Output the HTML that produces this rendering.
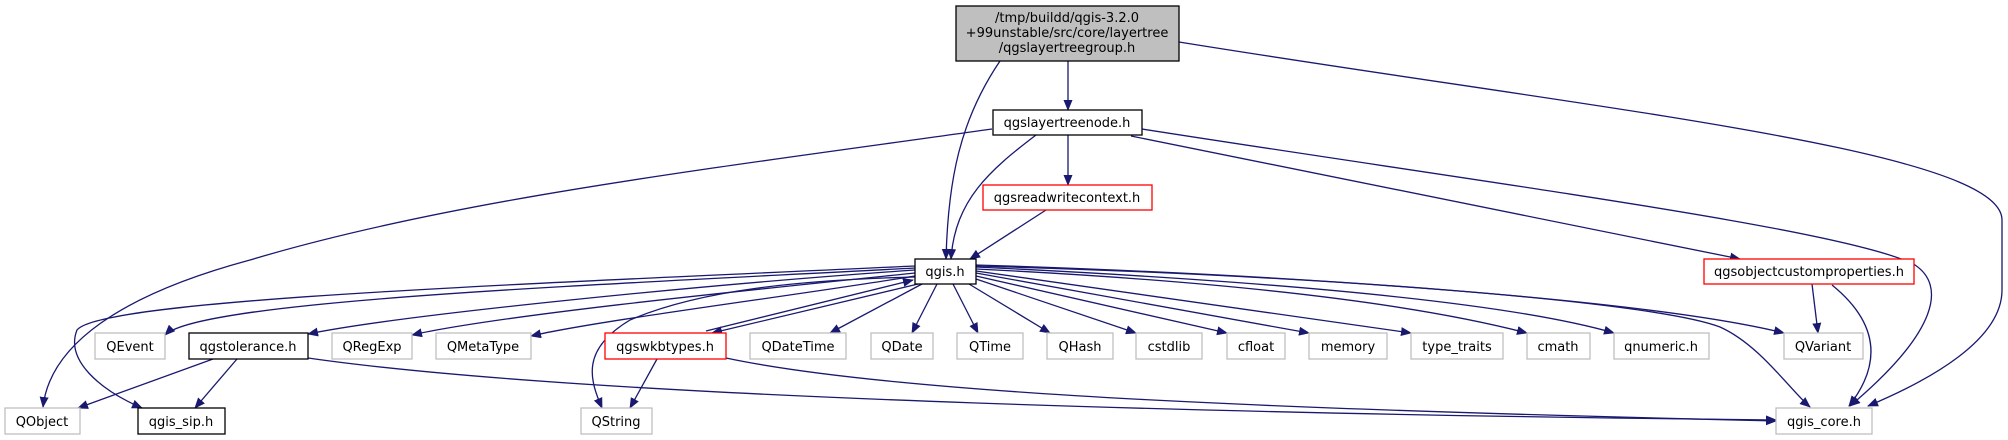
<!DOCTYPE html>
<html><head><meta charset="utf-8"><style>
html,body{margin:0;padding:0;background:#fff}
svg{display:block}
text{font-family:"DejaVu Sans","Liberation Sans",sans-serif;font-size:13px;fill:#000}
</style></head><body>
<svg width="2008" height="440" viewBox="0 0 2008 440" xmlns="http://www.w3.org/2000/svg">
<defs>
<marker id="a" markerWidth="11" markerHeight="9" refX="10" refY="4.5" orient="auto" markerUnits="userSpaceOnUse">
<path d="M0,0 L11,4.5 L0,9 z" fill="#191970"/>
</marker>
</defs>
<g fill="none" stroke="#191970" stroke-width="1.3" marker-end="url(#a)">
<path d="M1000,61 C960,120 948,180 946,259"/>
<path d="M1068,61 L1068,110"/>
<path d="M1179,42 C1600,110 2002,150 2002,220 L2002,290 C2002,340 1930,380 1868,406"/>
<path d="M1036,135 C990,170 955,200 951,259"/>
<path d="M992,129 C700,170 450,200 250,260 C120,295 50,345 43,407"/>
<path d="M1068,135 L1068,185"/>
<path d="M1131,136 L1740,259"/>
<path d="M1142,129 C1500,185 1850,230 1915,265 C1945,285 1940,330 1850,406"/>
<path d="M1046,210 L970,259"/>
<path d="M1812,284 L1818,333"/>
<path d="M1832,285 C1875,320 1885,360 1849,406"/>
<path d="M915,268 C600,285 200,300 165,335"/>
<path d="M915,270 C700,285 400,315 308,334"/>
<path d="M915,273 C750,290 500,315 412,335"/>
<path d="M915,276 C800,295 600,320 531,336"/>
<path d="M915,266 C500,285 100,300 77,330 C65,360 100,390 142,408"/>
<path d="M915,277 C800,280 700,290 630,320 C580,350 590,380 602,408"/>
<path d="M918,284 L712,333"/>
<path d="M706,331 L913,280"/>
<path d="M922,284 L830,333"/>
<path d="M937,284 L912,333"/>
<path d="M953,284 L978,333"/>
<path d="M969,284 L1050,333"/>
<path d="M976,279 L1136,333"/>
<path d="M976,276 L1227,333"/>
<path d="M976,273 L1309,333"/>
<path d="M976,271 L1411,333"/>
<path d="M976,269 C1200,280 1400,300 1527,333"/>
<path d="M976,267 C1250,280 1500,300 1614,333"/>
<path d="M976,265 C1300,275 1650,300 1784,333"/>
<path d="M976,266 C1300,275 1650,300 1720,327 C1760,345 1790,390 1810,407"/>
<path d="M213,359 L78,408"/>
<path d="M237,359 L195,408"/>
<path d="M308,358 C600,400 1300,415 1776,420"/>
<path d="M657,359 L630,408"/>
<path d="M726,358 C900,395 1300,410 1776,421"/>
</g>
<g stroke-width="1.3">
<rect x="956" y="6" width="223" height="55" fill="#bfbfbf" stroke="#000"/>
<rect x="993" y="110" width="149" height="25" fill="#fff" stroke="#000"/>
<rect x="983" y="185" width="169" height="25" fill="#fff" stroke="#ff0000"/>
<rect x="915" y="259" width="61" height="25" fill="#fff" stroke="#000"/>
<rect x="1704" y="259" width="210" height="25" fill="#fff" stroke="#ff0000"/>
<rect x="95" y="333" width="70" height="26" fill="#fff" stroke="#bfbfbf"/>
<rect x="189" y="333" width="119" height="26" fill="#fff" stroke="#000"/>
<rect x="332" y="333" width="80" height="26" fill="#fff" stroke="#bfbfbf"/>
<rect x="436" y="333" width="95" height="26" fill="#fff" stroke="#bfbfbf"/>
<rect x="605" y="333" width="121" height="26" fill="#fff" stroke="#ff0000"/>
<rect x="750" y="333" width="96" height="26" fill="#fff" stroke="#bfbfbf"/>
<rect x="871" y="333" width="62" height="26" fill="#fff" stroke="#bfbfbf"/>
<rect x="957" y="333" width="66" height="26" fill="#fff" stroke="#bfbfbf"/>
<rect x="1047" y="333" width="66" height="26" fill="#fff" stroke="#bfbfbf"/>
<rect x="1136" y="333" width="66" height="26" fill="#fff" stroke="#bfbfbf"/>
<rect x="1227" y="333" width="58" height="26" fill="#fff" stroke="#bfbfbf"/>
<rect x="1309" y="333" width="78" height="26" fill="#fff" stroke="#bfbfbf"/>
<rect x="1411" y="333" width="92" height="26" fill="#fff" stroke="#bfbfbf"/>
<rect x="1527" y="333" width="63" height="26" fill="#fff" stroke="#bfbfbf"/>
<rect x="1614" y="333" width="95" height="26" fill="#fff" stroke="#bfbfbf"/>
<rect x="1784" y="333" width="79" height="26" fill="#fff" stroke="#bfbfbf"/>
<rect x="5" y="408" width="75" height="26" fill="#fff" stroke="#bfbfbf"/>
<rect x="138" y="408" width="87" height="26" fill="#fff" stroke="#000"/>
<rect x="581" y="408" width="71" height="26" fill="#fff" stroke="#bfbfbf"/>
<rect x="1776" y="408" width="96" height="26" fill="#fff" stroke="#bfbfbf"/>
</g>
<g text-anchor="middle">
<text x="1067" y="22">/tmp/buildd/qgis-3.2.0</text>
<text x="1067" y="37">+99unstable/src/core/layertree</text>
<text x="1067" y="52">/qgslayertreegroup.h</text>
<text x="1067" y="127">qgslayertreenode.h</text>
<text x="1067" y="202">qgsreadwritecontext.h</text>
<text x="945" y="276">qgis.h</text>
<text x="1809" y="276">qgsobjectcustomproperties.h</text>
<text x="130" y="351">QEvent</text>
<text x="248" y="351">qgstolerance.h</text>
<text x="372" y="351">QRegExp</text>
<text x="483" y="351">QMetaType</text>
<text x="665" y="351">qgswkbtypes.h</text>
<text x="798" y="351">QDateTime</text>
<text x="902" y="351">QDate</text>
<text x="990" y="351">QTime</text>
<text x="1080" y="351">QHash</text>
<text x="1169" y="351">cstdlib</text>
<text x="1256" y="351">cfloat</text>
<text x="1348" y="351">memory</text>
<text x="1457" y="351">type_traits</text>
<text x="1558" y="351">cmath</text>
<text x="1661" y="351">qnumeric.h</text>
<text x="1823" y="351">QVariant</text>
<text x="42" y="426">QObject</text>
<text x="181" y="426">qgis_sip.h</text>
<text x="616" y="426">QString</text>
<text x="1824" y="426">qgis_core.h</text>
</g>
</svg>
</body></html>
